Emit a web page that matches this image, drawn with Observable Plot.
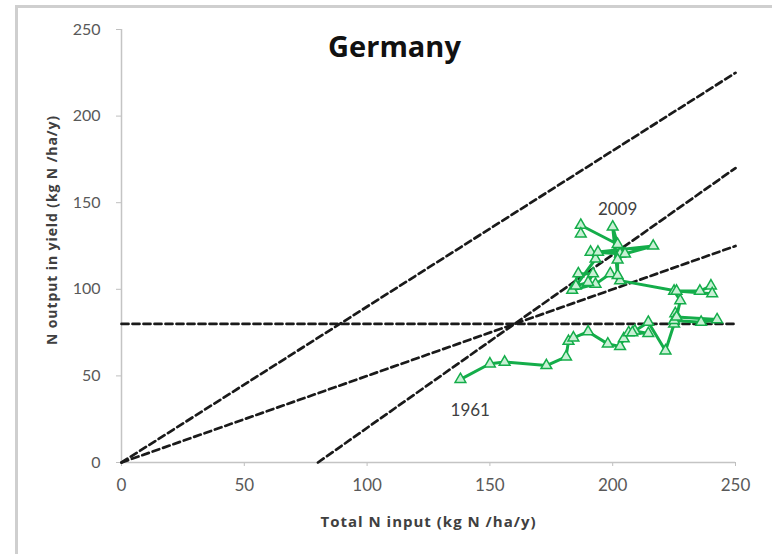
<!DOCTYPE html>
<html><head><meta charset="utf-8">
<script src="https://cdn.jsdelivr.net/npm/d3@7"></script>
<script src="https://cdn.jsdelivr.net/npm/@observablehq/plot@0.6"></script>
<style>
html,body{margin:0;padding:0;background:#fff;overflow:hidden;width:772px;height:554px}
#frame{position:absolute;left:15px;top:5px;width:800px;height:600px;border-top:3px solid #cfcfcf;border-left:3px solid #cfcfcf}
#chart{position:absolute;left:0;top:0}
</style></head><body><div id="frame"></div><div id="chart"></div>
<script>
const years = [1961,1962,1963,1964,1965,1966,1967,1968,1969,1970,1971,1972,1973,1974,1975,1976,1977,1978,1979,1980,
  1981,1982,1983,1984,1985,1986,1987,1988,1989,1990,1991,1992,1993,1994,1995,1996,1997,1998,1999,2000,
  2001,2002,2003,2004,2005,2006,2007,2008,2009];
const nInput = [138,150,156,173,181,182,184,190,198,203,204.5,206.5,209,214.5,208,214.5,221.5,225,225.5,225,
  236,242.5,226,227.5,225,235.5,240,240.5,226,203,199,193,183.5,186,192,190,185,193,191,203,
  194,216.5,205,202,202,200,202,187,187];
const nOutput = [48,57,58,56,61,70,72,75.5,68.5,67,71.5,75,76,74.5,75,81,64.5,80,86,82,
  81,82.5,84,93.5,99,99,102,97.5,99,105,109,103,99.5,109,109,104,102,117.5,121.5,120.5,
  121.5,125,120.5,117,108,136,126,137,132];
const refNames = ["NUE 90%","NUE 90%","NUE 50%","NUE 50%","Surplus 80","Surplus 80","Yield 80","Yield 80"];
const refX = [0,250, 0,250, 80,250, 0,250];
const refY = [0,225, 0,125, 0,170, 80,80];
const labelText = ["2009","1961"];
const labelX = [202,142];
const labelY = [146,30];
const ticks = [0,50,100,150,200,250];
const titleText = "Germany";
const xTitle = "Total N input (kg N /ha/y)";
const yTitle = "N output in yield (kg N /ha/y)";

const series = years.map((yr,i)=>({year:yr, x:nInput[i], y:nOutput[i]}));
const refs = refNames.map((n,i)=>({name:n, x:refX[i], y:refY[i]}));
const labels = labelText.map((t,i)=>({text:t, x:labelX[i], y:labelY[i]}));

const green = "#14ad4a";
const chart = Plot.plot({
  width: 772, height: 554,
  marginLeft: 121, marginRight: 37, marginTop: 29, marginBottom: 92,
  style: {fontFamily: "Lato, 'Open Sans', sans-serif", background: "transparent"},
  x: {domain: [0,250]},
  y: {domain: [0,250]},
  marks: [
    Plot.axisY({ticks, tickSize: 5, tickPadding: 16, fontSize: 16, stroke: "#bfbfbf", fill: "#595959", label: null}),
    Plot.axisX({ticks, tickSize: 4, tickPadding: 12, fontSize: 17, stroke: "#bfbfbf", fill: "#595959", label: null}),
    Plot.ruleX([0], {stroke: "#c4c4c4", strokeWidth: 1.5}),
    Plot.ruleY([0], {stroke: "#c4c4c4", strokeWidth: 1.5}),
    Plot.line(refs, {x: "x", y: "y", z: "name", stroke: "#1a1a1a", strokeWidth: 2.7, strokeDasharray: "7,4"}),
    Plot.line(series, {x: "x", y: "y", stroke: green, strokeWidth: 3}),
    Plot.dot(series, {x: "x", y: "y", symbol: "triangle", r: 4, stroke: green, strokeWidth: 1.5, fill: "#c9f0d5"}),
    Plot.text(labels, {x: "x", y: "y", text: "text", fontSize: 17, fill: "#404040"}),
    Plot.text([titleText], {frameAnchor: "top", textAnchor: "middle", lineAnchor: "middle", dx: -34, dy: 18, fontSize: 29, fontWeight: "bold", fontFamily: "'Open Sans', sans-serif", fill: "#111"}),
    Plot.text([xTitle], {frameAnchor: "bottom", textAnchor: "middle", lineAnchor: "middle", dy: 60, fontSize: 15, fontWeight: "bold", fontFamily: "'Open Sans', sans-serif", fill: "#404040"}),
    Plot.text([yTitle], {frameAnchor: "left", textAnchor: "middle", lineAnchor: "middle", dx: -69, dy: -16, rotate: -90, fontSize: 14, fontWeight: "bold", fontFamily: "'Open Sans', sans-serif", fill: "#404040"})
  ]
});
d3.select(chart).selectAll("text").each(function() {
  const t = this.textContent;
  if (t === xTitle) this.setAttribute("letter-spacing", "1");
  if (t === yTitle) this.setAttribute("letter-spacing", "0.9");
});
document.getElementById("chart").appendChild(chart);
</script>
</body></html>
